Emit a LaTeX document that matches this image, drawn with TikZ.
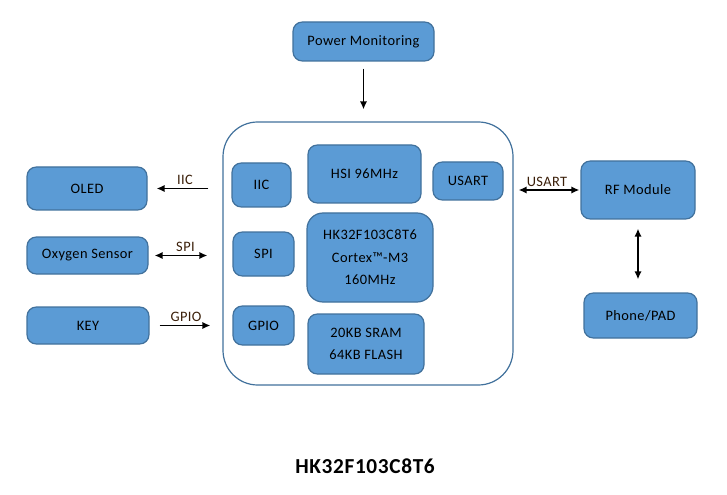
\documentclass[tikz,border=0pt]{standalone}
\usepackage{fontspec}
\setmainfont{Carlito}[LetterSpace=3]
\usepackage{tikz}
\usetikzlibrary{arrows.meta}

\definecolor{boxfill}{HTML}{5B9BD5}
\definecolor{boxline}{HTML}{41719C}
\definecolor{labeltext}{HTML}{3A1E08}

\tikzset{
  blk/.style 2 args={draw=boxline, fill=boxfill, line width=0.9pt, rounded corners=7pt,
    minimum width=#1*0.75pt, minimum height=#2*0.75pt, inner sep=0pt,
    font=\fontsize{10.8}{16.8}\selectfont, align=center},
  sig/.style={line width=1.3pt, >={Latex[length=6pt,width=5.5pt]}},
  tag/.style={font=\fontsize{10.8}{12}\selectfont, text=labeltext, inner sep=1pt}
}

\begin{document}
\begin{tikzpicture}[x=0.75pt, y=-0.75pt]
  \useasboundingbox (0,0) rectangle (727,495);

  % MCU frame
  \node[draw=boxline, fill=white, line width=0.9pt, rounded corners=26pt,
        minimum width=290*0.75pt, minimum height=263*0.75pt] (mcu) at (368,253.5) {};

  % Inside MCU
  \node[blk={59}{44}]  (iic)   at (261.5,185) {IIC};
  \node[blk={61}{44}]  (spi)   at (263.5,254) {SPI};
  \node[blk={61}{39}]  (gpio)  at (263.5,325.5) {GPIO};
  \node[blk={113}{58}] (hsi)   at (364.5,174) {HSI 96MHz};
  \node[blk={126}{89}, rounded corners=12pt] (core) at (370,257.5)
      {HK32F103C8T6\\Cortex™-M3\\160MHz};
  \node[blk={116}{60}] (mem)   at (366,344) {20KB SRAM\\64KB FLASH};
  \node[blk={70}{38}]  (usart) at (468,181) {USART};

  % Peripherals
  \node[blk={141}{39}] (pwr)   at (363.5,41.5) {Power Monitoring};
  \node[blk={120}{43}] (oled)  at (87,188.5) {OLED};
  \node[blk={121}{37}] (oxy)   at (87.5,255.5) {Oxygen Sensor};
  \node[blk={122}{37}] (key)   at (88,325.5) {KEY};
  \node[blk={114}{58}] (rf)    at (638,190) {RF Module};
  \node[blk={113}{45}] (phone) at (640.5,315.5) {Phone/PAD};

  % Buses
  \draw[sig, ->, shorten <=7*0.75pt, shorten >=12*0.75pt] (pwr.south) -- (pwr.south |- mcu.north);
  \draw[sig, ->, shorten <=14*0.75pt, shorten >=9*0.75pt] (mcu.west |- oled) -- (oled)
      node[tag, midway, above, yshift=1pt] {IIC};
  \draw[sig, <->, shorten <=15*0.75pt, shorten >=6*0.75pt] (mcu.west |- oxy) -- (oxy)
      node[tag, midway, above, yshift=1pt] {SPI};
  \draw[sig, ->, shorten <=10*0.75pt, shorten >=12*0.75pt] (key) -- (mcu.west |- key)
      node[tag, midway, above, yshift=1pt] {GPIO};
  \draw[sig, <->, shorten <=5*0.75pt, shorten >=1*0.75pt] (mcu.east |- rf) -- (rf)
      node[tag, midway, above, yshift=1pt] {USART};
  \draw[sig, <->, shorten <=9*0.75pt, shorten >=13*0.75pt] (rf.south) -- (rf.south |- phone.north);

  % Title
  \node[font=\fontsize{16}{18}\bfseries\selectfont] (title) at (365,466) {HK32F103C8T6};
\end{tikzpicture}
\end{document}
